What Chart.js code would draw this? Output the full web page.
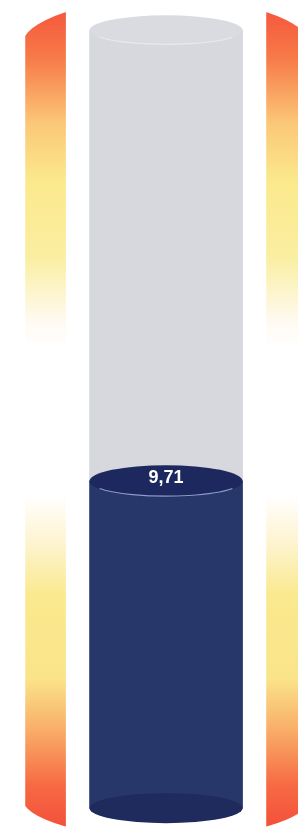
<!DOCTYPE html>
<html lang="en">
<head>
    <meta charset="UTF-8">
    <title>Gauge</title>
    <script src="https://cdn.jsdelivr.net/npm/chart.js"></script>
    <style>
        body { margin: 0; background: #ffffff; }
        .wrap { width: 298px; height: 827px; position: relative; }
    </style>
</head>
<body>
<div class="wrap"><canvas id="gaugeChart"></canvas></div>

<script>
    // data
    const gaugeValue = [9.71];
    const gaugeMax = [23.1];
    const bandPositions = [0, 2];      // left and right colour bands
    const gaugePosition = [1];         // the cylinder itself
    const bandRange = [-0.56, 23.7];
    const axisRange = [-0.56, 24];

    const navy = "#283769";
    const grey = "#d6d8dd";

    function bandGradient(chart) {
        const area = chart.chartArea;
        if (!area) return "#f9ee9a";
        const g = chart.ctx.createLinearGradient(0, area.top, 0, area.bottom);
        g.addColorStop(0.00, "#f4503a");
        g.addColorStop(0.07, "#f77a48");
        g.addColorStop(0.15, "#fbc878");
        g.addColorStop(0.22, "#fbe98c");
        g.addColorStop(0.31, "#faeea0");
        g.addColorStop(0.39, "#fffaf2");
        g.addColorStop(0.42, "#ffffff");
        g.addColorStop(0.60, "#ffffff");
        g.addColorStop(0.66, "#fdf3cc");
        g.addColorStop(0.72, "#fae98e");
        g.addColorStop(0.82, "#fae48a");
        g.addColorStop(0.88, "#f9b06a");
        g.addColorStop(0.95, "#f66a43");
        g.addColorStop(1.00, "#f4503a");
        return g;
    }

    // clip the side bands between two big arcs, like a ring round the cylinder
    const bandClip = {
        id: "bandClip",
        beforeDatasetDraw(chart, args) {
            if (args.index !== 0) return;
            const bands = chart.getDatasetMeta(0).data;
            const mid = chart.getDatasetMeta(1).data[0];
            if (!bands.length || !mid) return;
            const cx = mid.x;
            const rx = cx - (bands[0].x - bands[0].width / 2) + 4;
            const ctx = chart.ctx;
            ctx.save();
            ctx.beginPath();
            ctx.ellipse(cx, bands[0].y + 36, rx, 47, 0, Math.PI, 2 * Math.PI);
            ctx.ellipse(cx, bands[0].base - 30, rx, 41, 0, 0, Math.PI);
            ctx.closePath();
            ctx.clip();
        },
        afterDatasetDraw(chart, args) {
            if (args.index === 0) chart.ctx.restore();
        }
    };

    function ellipse(ctx, x, y, rx, ry, fill, stroke) {
        ctx.beginPath();
        ctx.ellipse(x, y, rx, ry, 0, 0, 2 * Math.PI);
        ctx.fillStyle = fill;
        ctx.fill();
        if (stroke) {
            ctx.beginPath();
            ctx.ellipse(x, y + 1, rx - 2, ry - 2, 0, 0.15 * Math.PI, 0.85 * Math.PI);
            ctx.strokeStyle = stroke;
            ctx.lineWidth = 1.2;
            ctx.stroke();
        }
    }

    // ellipses on the cylinder ends and the value label
    const cylinderEnds = {
        id: "cylinderEnds",
        afterDatasetDraw(chart, args) {
            const ctx = chart.ctx;
            const el = chart.getDatasetMeta(args.index).data[0];
            if (!el) return;
            const rx = el.width / 2;
            if (args.index === 1) {
                ellipse(ctx, el.x, el.y, rx, 15, "#d9dbe0", "#e8e9ec");
            }
            if (args.index === 2) {
                ellipse(ctx, el.x, el.base, rx, 15, "#1f2a5d");
                ellipse(ctx, el.x, el.y, rx, 16, "#1d295e", "#8e9cc9");
                ctx.fillStyle = "#ffffff";
                ctx.font = "bold 18px 'Liberation Sans', Arial, sans-serif";
                ctx.textAlign = "center";
                ctx.textBaseline = "middle";
                ctx.fillText(String(gaugeValue[0]).replace(".", ","), el.x, el.y - 3);
            }
        }
    };

    const ctx = document.getElementById("gaugeChart").getContext("2d");
    new Chart(ctx, {
        type: "bar",
        data: {
            datasets: [
                {
                    label: "bands",
                    data: bandPositions.map(p => ({ x: p, y: bandRange })),
                    backgroundColor: (c) => bandGradient(c.chart),
                    barThickness: 40,
                    grouped: false,
                    order: 3
                },
                {
                    label: "empty",
                    data: gaugePosition.map(p => ({ x: p, y: [gaugeValue[0], gaugeMax[0]] })),
                    backgroundColor: grey,
                    barThickness: 153,
                    grouped: false,
                    order: 2
                },
                {
                    label: "value",
                    data: gaugePosition.map(p => ({ x: p, y: [0, gaugeValue[0]] })),
                    backgroundColor: navy,
                    barThickness: 153,
                    grouped: false,
                    order: 1
                }
            ]
        },
        options: {
            responsive: true,
            maintainAspectRatio: false,
            animation: false,
            layout: { padding: 0 },
            plugins: { legend: { display: false }, tooltip: { enabled: false } },
            scales: {
                x: { type: "linear", min: -0.378, max: 2.095, offset: false, display: false },
                y: { min: axisRange[0], max: axisRange[1], display: false }
            }
        },
        plugins: [bandClip, cylinderEnds]
    });
</script>
</body>
</html>
